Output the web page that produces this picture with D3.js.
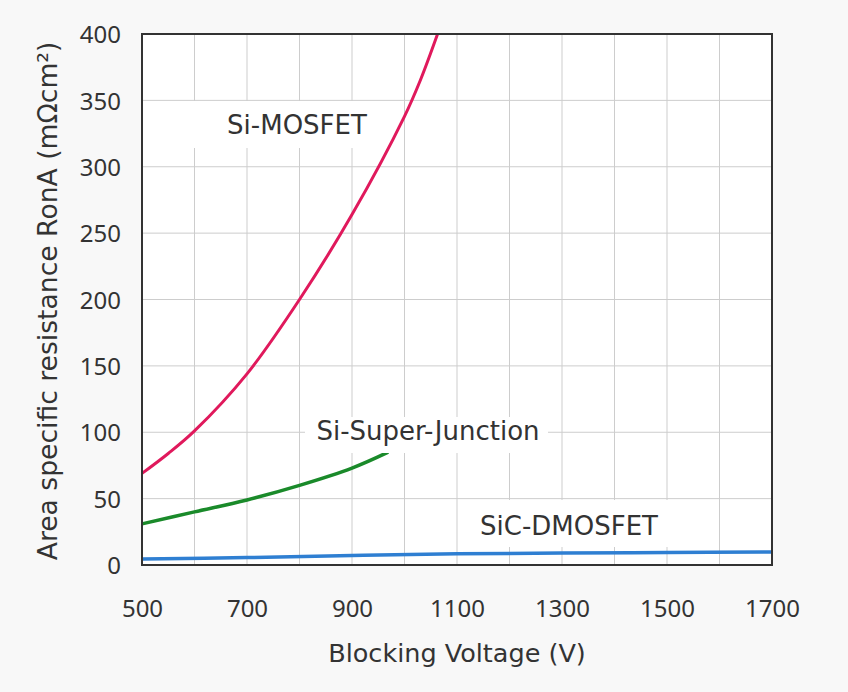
<!DOCTYPE html>
<html>
<head>
<meta charset="utf-8">
<script src="https://cdn.jsdelivr.net/npm/d3@7"></script>
<style>
  html, body { margin: 0; padding: 0; background: #f8f8f8; }
  svg { display: block; }
  text { font-family: "DejaVu Sans", "Noto Sans", sans-serif; fill: #333; }
</style>
</head>
<body>
<svg id="chart" width="848" height="692"></svg>
<script>
// ---- data ----
const xTicks = [500, 700, 900, 1100, 1300, 1500, 1700];
const yTicks = [0, 50, 100, 150, 200, 250, 300, 350, 400];

const siMosfetV   = [500, 550, 600, 700, 800, 900, 1000, 1030, 1063];
const siMosfetR   = [69,  84,  101, 144, 200, 264, 338,  365,  400];

const superJuncV  = [500, 600, 700, 800, 900, 969];
const superJuncR  = [31,  40,  49,  60,  73,  85];

const sicDmosV    = [500, 700, 900, 1100, 1300, 1500, 1700];
const sicDmosR    = [4.5, 5.6, 7.2, 8.4,  9,    9.4,  9.8];

const seriesNames = ["Si-MOSFET", "Si-Super-Junction", "SiC-DMOSFET"];

// ---- layout ----
const svg = d3.select("#chart");
const pL = 142, pR = 772, pT = 34, pB = 565;

const x = d3.scaleLinear().domain([500, 1700]).range([pL, pR]);
const y = d3.scaleLinear().domain([0, 400]).range([pB, pT]);

// plot background
svg.append("rect").attr("x", pL).attr("y", pT)
  .attr("width", pR - pL).attr("height", pB - pT).attr("fill", "#ffffff");

// grid
const gridX = d3.range(600, 1700, 100);
const gridY = d3.range(50, 400, 50);
svg.append("g").selectAll("line").data(gridX).join("line")
  .attr("x1", d => x(d)).attr("x2", d => x(d)).attr("y1", pT).attr("y2", pB)
  .attr("stroke", "#cdcdcd").attr("stroke-width", 1);
svg.append("g").selectAll("line").data(gridY).join("line")
  .attr("x1", pL).attr("x2", pR).attr("y1", d => y(d)).attr("y2", d => y(d))
  .attr("stroke", "#cdcdcd").attr("stroke-width", 1);

// series lines
const line = d3.line().x(d => x(d[0])).y(d => y(d[1])).curve(d3.curveCatmullRom.alpha(0.5));
const mk = (vs, rs) => vs.map((v, i) => [v, rs[i]]);

svg.append("path").datum(mk(sicDmosV, sicDmosR)).attr("d", line)
  .attr("fill", "none").attr("stroke", "#2f7fd2").attr("stroke-width", 3.5);
svg.append("path").datum(mk(superJuncV, superJuncR)).attr("d", line)
  .attr("fill", "none").attr("stroke", "#1a8a2a").attr("stroke-width", 3.5);
svg.append("path").datum(mk(siMosfetV, siMosfetR)).attr("d", line)
  .attr("fill", "none").attr("stroke", "#e0195c").attr("stroke-width", 3);

// series labels with white boxes
const labels = [
  { name: seriesNames[0], bx: 180, by: 101, bw: 198, bh: 47, tx: 297, ty: 134 },
  { name: seriesNames[1], bx: 305, by: 417, bw: 243, bh: 36, tx: 428, ty: 440 },
  { name: seriesNames[2], bx: 470, by: 500, bw: 205, bh: 47, tx: 569, ty: 535 }
];
labels.forEach(l => {
  svg.append("rect").attr("x", l.bx).attr("y", l.by).attr("width", l.bw).attr("height", l.bh)
    .attr("fill", "#ffffff");
  svg.append("text").attr("x", l.tx).attr("y", l.ty).attr("text-anchor", "middle")
    .attr("font-size", 26).text(l.name);
});

// frame
svg.append("rect").attr("x", pL).attr("y", pT)
  .attr("width", pR - pL).attr("height", pB - pT)
  .attr("fill", "none").attr("stroke", "#333").attr("stroke-width", 2);

// axes (labels only)
const tickFont = '"Noto Sans", "DejaVu Sans", sans-serif';
const xAxis = svg.append("g").attr("transform", `translate(0,${pB})`)
  .call(d3.axisBottom(x).tickValues(xTicks).tickSize(0).tickPadding(0).tickFormat(d3.format("d")));
xAxis.select(".domain").remove();
xAxis.selectAll("text").attr("font-size", 24).attr("fill", "#333")
  .attr("dy", null).attr("y", 52)
  .style("font-family", tickFont);

const yAxis = svg.append("g").attr("transform", `translate(${pL},0)`)
  .call(d3.axisLeft(y).tickValues(yTicks).tickSize(0).tickPadding(21).tickFormat(d3.format("d")));
yAxis.select(".domain").remove();
yAxis.selectAll("text").attr("font-size", 24).attr("fill", "#333")
  .attr("dy", "0.36em")
  .style("font-family", tickFont);

// axis titles
svg.append("text").attr("x", 457).attr("y", 662).attr("text-anchor", "middle")
  .attr("font-size", 25.5).text("Blocking Voltage (V)");
svg.append("text").attr("transform", "translate(57,301) rotate(-90)")
  .attr("text-anchor", "middle").attr("font-size", 26.6)
  .text("Area specific resistance RonA (mΩcm²)");
</script>
</body>
</html>
